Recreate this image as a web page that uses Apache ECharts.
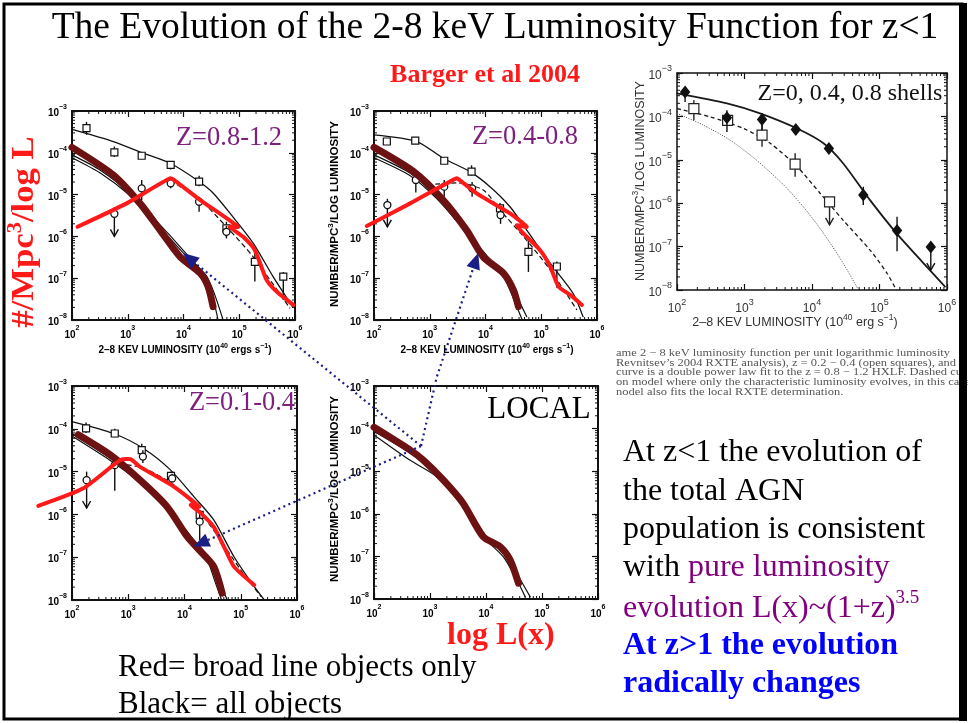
<!DOCTYPE html>
<html>
<head>
<meta charset="utf-8">
<script src="https://cdn.jsdelivr.net/npm/echarts/dist/echarts.min.js"></script>
<style>
html, body { margin: 0; padding: 0; background: #fff; }
#chart { width: 968px; height: 723px; }
</style>
</head>
<body>
<div id="chart"></div>
<script>
// All values are log10: x = log10(L / 1e40 erg s^-1), y = log10(number / Mpc^3 / log L)

// ---- Panel A: z = 0.8-1.2 ----
const zHighTotal = [[2.0,-3.44],[2.74,-3.73],[3.28,-4.01],[3.76,-4.25],[4.24,-4.65],[4.53,-4.96],[4.89,-5.54],[5.25,-6.16],[5.61,-6.97],[5.96,-7.69]];
const zHighDashed = [[3.76,-4.66],[4.30,-5.13],[4.77,-5.77],[5.25,-6.49],[5.91,-7.72]];
const zHighLocalA = [[2.0,-4.05],[2.5,-4.41],[3.04,-4.97],[3.52,-5.69],[4.0,-6.40],[4.42,-6.96],[4.71,-8.0]];
const zHighLocalB = [[2.0,-4.12],[2.5,-4.48],[3.04,-5.02],[3.52,-5.64],[4.0,-6.34],[4.42,-7.03],[4.62,-8.0]];
const zHighBrown = [[2.0,-3.87],[2.74,-4.53],[3.22,-5.21],[3.58,-5.85],[3.94,-6.49],[4.30,-6.88],[4.44,-7.20],[4.53,-7.68]];
const zHighRed = [[2.10,-5.77],[2.98,-5.21],[3.76,-4.61],[3.85,-4.67],[4.30,-5.13],[4.98,-5.77],[4.83,-5.77],[5.07,-6.01],[5.28,-6.33],[5.49,-7.04],[5.67,-7.32],[5.97,-7.64]];
// [logL, logPhi, lower, upper, upperLimitFlag]
const zHighSquares = [[2.26,-3.41,-3.57,-3.26,0],[2.76,-3.99,-4.10,-3.85,0],[3.25,-4.07,-4.15,-3.98,0],[3.77,-4.29,-4.40,-4.20,0],[4.28,-4.69,-4.80,-4.55,0],[4.77,-5.81,-6.00,-5.65,0],[5.28,-6.61,-7.08,-6.25,0],[5.79,-6.96,-7.52,-6.85,0]];
const zHighCircles = [[2.76,-5.46,-6.00,-5.30,1],[3.25,-4.85,-5.13,-4.65,0],[3.77,-4.73,-4.85,-4.60,0],[4.28,-5.17,-5.41,-5.05,0],[4.77,-5.89,-6.05,-5.75,0]];

// ---- Panel B: z = 0.4-0.8 ----
const zMidTotal = [[2.0,-3.57],[2.77,-3.73],[3.24,-4.13],[3.72,-4.45],[4.08,-4.81],[4.44,-5.29],[4.74,-5.85],[5.16,-6.64],[5.57,-7.36],[5.75,-7.92]];
const zMidDashed = [[3.10,-4.75],[3.48,-4.72],[3.96,-4.89],[4.26,-5.37],[4.68,-6.00],[5.16,-6.80],[5.64,-7.76]];
const zMidLocalA = [[2.0,-4.05],[2.65,-4.49],[3.12,-5.05],[3.54,-5.69],[3.96,-6.40],[4.32,-6.88],[4.56,-7.44],[4.74,-7.92]];
const zMidLocalB = [[2.0,-4.12],[2.65,-4.55],[3.12,-5.09],[3.54,-5.72],[3.96,-6.36],[4.32,-6.95],[4.52,-7.55],[4.66,-8.0]];
const zMidBrown = [[2.0,-3.87],[2.71,-4.45],[3.24,-5.13],[3.66,-5.85],[3.96,-6.49],[4.32,-6.88],[4.50,-7.28],[4.59,-7.68]];
const zMidRed = [[1.87,-5.75],[2.65,-5.21],[3.48,-4.61],[3.57,-4.69],[3.84,-4.97],[4.44,-5.45],[4.74,-5.77],[4.56,-5.73],[4.68,-5.93],[4.98,-6.33],[5.16,-6.72],[5.31,-7.20],[5.52,-7.40],[5.73,-7.64]];
const zMidSquares = [[2.23,-3.73,-3.80,-3.65,0],[2.74,-3.71,-3.78,-3.64,0],[3.26,-4.19,-4.27,-4.10,0],[3.75,-4.45,-4.55,-4.30,0],[4.26,-5.33,-5.45,-5.20,0],[4.77,-6.37,-6.85,-6.10,0],[5.28,-6.72,-7.23,-6.60,0]];
const zMidCircles = [[2.24,-5.25,-5.77,-5.10,1],[2.75,-4.65,-4.95,-4.50,0],[3.26,-4.81,-5.05,-4.65,0],[3.76,-4.85,-5.05,-4.70,0],[4.27,-5.49,-5.70,-5.30,0]];

// ---- Panel C: z = 0.1-0.4 ----
const zLowTotal = [[2.0,-3.83],[2.74,-4.11],[3.27,-4.46],[3.75,-4.96],[4.17,-5.59],[4.52,-6.13],[4.88,-6.99],[5.24,-7.69],[5.42,-8.0]];
const zLowDashed = [[2.83,-4.81],[3.27,-4.92],[3.81,-5.31],[4.29,-5.97],[4.64,-6.60],[5.00,-7.30],[5.36,-7.92]];
const zLowLocalA = [[2.0,-4.11],[2.68,-4.69],[3.21,-5.20],[3.69,-5.82],[4.05,-6.44],[4.40,-6.99],[4.58,-7.46],[4.76,-8.0]];
const zLowLocalB = [[2.0,-4.17],[2.68,-4.74],[3.21,-5.25],[3.69,-5.86],[4.05,-6.40],[4.40,-7.05],[4.55,-7.60],[4.66,-8.0]];
const zLowBrown = [[2.11,-4.14],[2.68,-4.61],[3.21,-5.20],[3.69,-5.82],[4.05,-6.52],[4.29,-6.87],[4.52,-7.22],[4.67,-7.84]];
const zLowRed = [[1.40,-5.80],[2.20,-5.39],[2.86,-4.73],[3.04,-4.71],[3.21,-4.89],[3.81,-5.35],[4.26,-5.82],[4.11,-5.78],[4.29,-5.97],[4.52,-6.29],[4.70,-6.75],[4.88,-7.22],[5.24,-7.65]];
const zLowSquares = [[2.25,-3.99,-4.10,-3.85,0],[2.76,-4.11,-4.20,-4.00,0],[3.24,-4.50,-4.65,-4.35,0],[3.76,-5.10,-5.20,-5.00,0],[4.27,-6.01,-6.15,-5.90,0]];
const zLowCircles = [[2.26,-5.20,-5.85,-5.00,1],[2.76,-4.85,-5.45,-4.70,0],[3.26,-4.65,-4.80,-4.50,0],[3.78,-5.16,-5.25,-5.05,0],[4.27,-6.17,-6.60,-5.95,0]];

// ---- Panel D: local ----
const localBrown = [[2.0,-3.97],[2.64,-4.50],[2.88,-4.74],[3.24,-5.21],[3.59,-5.75],[3.95,-6.54],[4.25,-6.77],[4.43,-7.08],[4.58,-7.63]];
const localA = [[2.0,-4.07],[2.76,-4.66],[3.24,-5.13],[3.66,-5.83],[4.01,-6.54],[4.37,-7.01],[4.55,-7.40],[4.79,-7.95]];
const localB = [[2.0,-4.15],[2.64,-4.74],[3.12,-5.13],[3.54,-5.75],[3.95,-6.54],[4.31,-7.01],[4.55,-7.55],[4.70,-7.95]];

// ---- Panel E: Z = 0, 0.4, 0.8 shells ----
const shellHighFit = [[2.0,-3.47],[2.74,-3.70],[3.23,-3.93],[3.78,-4.28],[4.17,-4.62],[4.46,-5.08],[4.86,-5.93],[5.25,-6.69],[5.65,-7.38],[5.97,-7.92]];
const shellMidFit = [[2.0,-3.82],[2.49,-4.01],[2.99,-4.28],[3.38,-4.62],[3.78,-5.16],[4.12,-5.77],[4.46,-6.39],[4.86,-7.08],[5.11,-7.61],[5.25,-8.0]];
const shellLocalFit = [[2.0,-3.93],[2.39,-4.20],[2.79,-4.55],[3.18,-5.01],[3.58,-5.58],[3.87,-6.08],[4.17,-6.69],[4.46,-7.38],[4.69,-8.0]];
const shellDiamonds = [[2.12,-3.44,-3.67,-3.32,0],[2.74,-4.03,-4.36,-3.86,0],[3.26,-4.07,-4.32,-3.93,0],[3.76,-4.30,-4.40,-4.20,0],[4.25,-4.74,-4.85,-4.65,0],[4.76,-5.81,-6.04,-5.62,0],[5.26,-6.63,-7.11,-6.31,0],[5.76,-7.01,-7.54,-7.01,1]];
const shellSquares = [[2.25,-3.82,-4.09,-3.63,0],[2.75,-4.09,-4.20,-3.95,0],[3.26,-4.43,-4.70,-4.16,0],[3.75,-5.10,-5.39,-4.85,0],[4.26,-5.97,-6.50,-5.97,1]];

// Axis extents
const logLRange = [2, 6];
const logPhiRange = [-8, -3];

// Evolution arrows: start on the local curve, end on each redshift panel
const arrowStart = [2.84, -4.41];
const arrowBend = [3.12, -2.79];
const arrowTargets = [[3.99, -6.40], [3.87, -6.40], [4.16, -6.75]];

// ---------------------------------------------------------------
const frames = [
  { left: 72,  top: 111, width: 223, height: 209 },
  { left: 374, top: 111, width: 223, height: 209 },
  { left: 72,  top: 386, width: 225, height: 214 },
  { left: 374, top: 386, width: 224, height: 213 },
  { left: 677, top: 73,  width: 270, height: 217 }
];

const RED = '#ff1a1a', BROWN = '#6d1212', PURPLE = '#7d217d', NAVY = '#1a1f86';

function supLabel(v) {
  const e = v < 0 ? '\u2212' + (-v) : String(v);
  return '{b|10}{s|' + e + '}';
}
function richFor(size, color, weight) {
  return {
    b: { fontSize: size, fontFamily: 'Liberation Sans', fontWeight: weight, color: color, lineHeight: size + 5, verticalAlign: 'bottom' },
    s: { fontSize: Math.round(size * 0.72), fontFamily: 'Liberation Sans', fontWeight: weight, color: color, verticalAlign: 'top' }
  };
}

const xAxes = [], yAxes = [], grids = [];
frames.forEach((f, i) => {
  grids.push(Object.assign({ containLabel: false }, f));
  const big = i === 4;
  const col = big ? '#333' : '#000';
  const lsize = big ? 12 : 10;
  const weight = big ? 'normal' : 'bold';
  const common = {
    type: 'value', gridIndex: i, interval: 1,
    axisLine: { show: true, onZero: false, lineStyle: { color: '#111', width: big ? 1.5 : 2 } },
    axisTick: { show: true, inside: true, length: 6, lineStyle: { color: '#111', width: 1.2 } },
    splitLine: { show: false }
  };
  xAxes.push(Object.assign({}, common, {
    position: 'bottom', min: logLRange[0], max: logLRange[1],
    axisLabel: { show: true, margin: big ? 8 : 5, formatter: supLabel, rich: richFor(lsize, col, weight) }
  }));
  xAxes.push(Object.assign({}, common, {
    position: 'top', min: logLRange[0], max: logLRange[1], axisLabel: { show: false }
  }));
  yAxes.push(Object.assign({}, common, {
    position: 'left', min: logPhiRange[0], max: logPhiRange[1],
    axisLabel: { show: true, margin: 5, formatter: supLabel, rich: richFor(lsize, col, weight) }
  }));
  yAxes.push(Object.assign({}, common, {
    position: 'right', min: logPhiRange[0], max: logPhiRange[1], axisLabel: { show: false }
  }));
});

// Minor ticks at 2..9 x 10^n on all four sides of a frame
function minorTicks(gi) {
  return {
    type: 'custom', xAxisIndex: gi * 2, yAxisIndex: gi * 2, silent: true, z: 6,
    data: [[(logLRange[0] + logLRange[1]) / 2, (logPhiRange[0] + logPhiRange[1]) / 2]],
    renderItem: function (params, api) {
      const kids = [];
      const st = { stroke: '#111', lineWidth: 1 };
      const len = 3;
      for (let d = logLRange[0]; d < logLRange[1]; d++) {
        for (let k = 2; k < 10; k++) {
          const v = d + Math.log10(k);
          const b = api.coord([v, logPhiRange[0]]), t = api.coord([v, logPhiRange[1]]);
          kids.push({ type: 'line', shape: { x1: b[0], y1: b[1], x2: b[0], y2: b[1] - len }, style: st });
          kids.push({ type: 'line', shape: { x1: t[0], y1: t[1], x2: t[0], y2: t[1] + len }, style: st });
        }
      }
      for (let d = logPhiRange[0]; d < logPhiRange[1]; d++) {
        for (let k = 2; k < 10; k++) {
          const v = d + Math.log10(k);
          const l = api.coord([logLRange[0], v]), r = api.coord([logLRange[1], v]);
          kids.push({ type: 'line', shape: { x1: l[0], y1: l[1], x2: l[0] + len, y2: l[1] }, style: st });
          kids.push({ type: 'line', shape: { x1: r[0], y1: r[1], x2: r[0] - len, y2: r[1] }, style: st });
        }
      }
      return { type: 'group', children: kids };
    }
  };
}

// Data points with vertical error bars; flag 1 draws an upper-limit arrow
function points(gi, rows, shape, size, color) {
  return {
    type: 'custom', xAxisIndex: gi * 2, yAxisIndex: gi * 2, silent: true, z: 8,
    data: rows,
    renderItem: function (params, api) {
      const x = api.value(0), y = api.value(1), lo = api.value(2), hi = api.value(3), lim = api.value(4);
      const c = api.coord([x, y]), pl = api.coord([x, lo]), ph = api.coord([x, hi]);
      const kids = [];
      const st = { stroke: color, lineWidth: 1.4 };
      kids.push({ type: 'line', shape: { x1: c[0], y1: ph[1], x2: c[0], y2: pl[1] }, style: st });
      if (lim) {
        kids.push({ type: 'polyline', shape: { points: [[c[0] - 4, pl[1] - 7], [c[0], pl[1]], [c[0] + 4, pl[1] - 7]] }, style: { stroke: color, lineWidth: 1.4, fill: 'none' } });
      }
      const h = size / 2;
      if (shape === 'square') {
        kids.push({ type: 'rect', shape: { x: c[0] - h, y: c[1] - h, width: size, height: size }, style: { fill: '#fff', stroke: color, lineWidth: 1.2 } });
      } else if (shape === 'circle') {
        kids.push({ type: 'circle', shape: { cx: c[0], cy: c[1], r: h }, style: { fill: '#fff', stroke: color, lineWidth: 1.3 } });
      } else {
        kids.push({ type: 'polygon', shape: { points: [[c[0], c[1] - h], [c[0] + h * 0.8, c[1]], [c[0], c[1] + h], [c[0] - h * 0.8, c[1]]] }, style: { fill: color } });
      }
      return { type: 'group', children: kids };
    }
  };
}

function curve(gi, data, color, width, extra) {
  return Object.assign({
    type: 'line', xAxisIndex: gi * 2, yAxisIndex: gi * 2, data: data,
    symbol: 'none', showSymbol: false, silent: true, clip: false, smooth: 0.25,
    lineStyle: { color: color, width: width, cap: 'round', join: 'round' }, z: 3
  }, extra || {});
}

// Hand-drawn broad-line tracks: free polylines that may leave the frame
function track(gi, data, color, width) {
  return {
    type: 'custom', xAxisIndex: gi * 2, yAxisIndex: gi * 2, silent: true, z: 10, clip: false,
    data: data,
    renderItem: function (params, api) {
      if (params.dataIndex !== 0) return null;
      const pts = data.map(p => api.coord(p));
      return { type: 'polyline', shape: { points: pts, smooth: 0.2 }, style: { stroke: color, lineWidth: width, fill: 'none', lineCap: 'round', lineJoin: 'round' } };
    }
  };
}

const series = [];
for (let i = 0; i < 5; i++) series.push(minorTicks(i));

// Panel A
series.push(curve(0, zHighTotal, '#111', 1.3));
series.push(curve(0, zHighDashed, '#111', 1.2, { lineStyle: { color: '#111', width: 1.2, type: [5, 3] } }));
series.push(curve(0, zHighLocalA, '#111', 1.2));
series.push(curve(0, zHighLocalB, '#111', 1.2));
series.push(points(0, zHighSquares, 'square', 7, '#111'));
series.push(points(0, zHighCircles, 'circle', 7, '#111'));
series.push(curve(0, zHighBrown, BROWN, 7, { z: 9 }));
series.push(track(0, zHighRed, RED, 4));
// Panel B
series.push(curve(1, zMidTotal, '#111', 1.3));
series.push(curve(1, zMidDashed, '#111', 1.2, { lineStyle: { color: '#111', width: 1.2, type: [5, 3] } }));
series.push(curve(1, zMidLocalA, '#111', 1.2));
series.push(curve(1, zMidLocalB, '#111', 1.2));
series.push(points(1, zMidSquares, 'square', 7, '#111'));
series.push(points(1, zMidCircles, 'circle', 7, '#111'));
series.push(curve(1, zMidBrown, BROWN, 7, { z: 9 }));
series.push(track(1, zMidRed, RED, 4));
// Panel C
series.push(curve(2, zLowTotal, '#111', 1.3));
series.push(curve(2, zLowDashed, '#111', 1.2, { lineStyle: { color: '#111', width: 1.2, type: [5, 3] } }));
series.push(curve(2, zLowLocalA, '#111', 1.2));
series.push(curve(2, zLowLocalB, '#111', 1.2));
series.push(points(2, zLowSquares, 'square', 7, '#111'));
series.push(points(2, zLowCircles, 'circle', 7, '#111'));
series.push(curve(2, zLowBrown, BROWN, 7, { z: 9 }));
series.push(track(2, zLowRed, RED, 4));
// Panel D
series.push(curve(3, localA, '#111', 1.2));
series.push(curve(3, localB, '#111', 1.2));
series.push(curve(3, localBrown, BROWN, 7, { z: 9 }));
// Panel E
series.push(curve(4, shellHighFit, '#1a1a1a', 1.8));
series.push(curve(4, shellMidFit, '#1a1a1a', 1.3, { lineStyle: { color: '#1a1a1a', width: 1.3, type: [4, 3] } }));
series.push(curve(4, shellLocalFit, '#444', 1, { lineStyle: { color: '#444', width: 1, type: [1, 1.5] } }));
series.push(points(4, shellSquares, 'square', 10, '#222'));
series.push(points(4, shellDiamonds, 'diamond', 13, '#111'));

const chart = echarts.init(document.getElementById('chart'), null, { renderer: 'canvas' });
chart.setOption({
  animation: false,
  backgroundColor: '#fff',
  grid: grids,
  xAxis: xAxes,
  yAxis: yAxes,
  series: series
});

// ---- annotations ----
function toPx(gi, p) {
  return chart.convertToPixel({ xAxisIndex: gi * 2, yAxisIndex: gi * 2 }, p);
}
function arrowHead(from, tip, len, half) {
  const dx = tip[0] - from[0], dy = tip[1] - from[1];
  const n = Math.hypot(dx, dy), ux = dx / n, uy = dy / n;
  const bx = tip[0] - ux * len, by = tip[1] - uy * len;
  return {
    base: [bx, by],
    pts: [tip, [bx - uy * half, by + ux * half], [bx + uy * half, by - ux * half]]
  };
}

const g = [];
const start = toPx(3, arrowStart);
const bend = toPx(3, arrowBend);
const paths = [
  [start, toPx(0, arrowTargets[0])],
  [start, bend, toPx(1, arrowTargets[1])],
  [start, toPx(2, arrowTargets[2])]
];
paths.forEach(p => {
  const tip = p[p.length - 1], prev = p[p.length - 2];
  const ah = arrowHead(prev, tip, 16, 7);
  const line = p.slice(0, -1).concat([ah.base]);
  g.push({ type: 'polyline', z: 50, shape: { points: line }, style: { stroke: NAVY, lineWidth: 2.2, lineDash: [2, 3.5], fill: 'none' } });
  g.push({ type: 'polygon', z: 50, shape: { points: ah.pts }, style: { fill: NAVY } });
});

function txt(x, y, text, font, fill, align) {
  return { type: 'text', x: x, y: y, z: 60, style: { text: text, font: font, fill: fill, align: align || 'left', verticalAlign: 'middle' } };
}
function rt(family, size, fill, weight, extra) {
  return Object.assign({ fontSize: size, fontFamily: family, fontWeight: weight || 'normal', fill: fill, color: fill }, extra || {});
}

// slide frame
g.push({ type: 'rect', z: 70, shape: { x: 4, y: 4, width: 958, height: 715 }, style: { fill: 'none', stroke: '#000', lineWidth: 3 } });
g.push({ type: 'rect', z: 70, shape: { x: 959, y: 3, width: 8, height: 718 }, style: { fill: '#000' } });

g.push(txt(495, 28, 'The Evolution of the 2-8 keV Luminosity Function for z<1', '37.5px "Liberation Serif"', '#000', 'center'));
g.push(txt(485, 75, 'Barger et al 2004', 'bold 26px "Liberation Serif"', RED, 'center'));

// panel captions
g.push(txt(229, 138, 'Z=0.8-1.2', '26.5px "Liberation Serif"', PURPLE, 'center'));
g.push(txt(525, 137, 'Z=0.4-0.8', '26.5px "Liberation Serif"', PURPLE, 'center'));
g.push(txt(242, 403, 'Z=0.1-0.4', '26.5px "Liberation Serif"', PURPLE, 'center'));
g.push(txt(539, 410, 'LOCAL', '31px "Liberation Serif"', '#000', 'center'));
g.push(txt(850, 94, 'Z=0, 0.4, 0.8 shells', '24px "Liberation Serif"', '#111', 'center'));

// axis titles of the small frames
const smallRich = {
  t: rt('Liberation Sans', 10, '#000', 'bold', { lineHeight: 13, verticalAlign: 'bottom' }),
  u: rt('Liberation Sans', 7, '#000', 'bold', { verticalAlign: 'top' })
};
const smallRichV = {
  t: rt('Liberation Sans', 11.5, '#000', 'bold', { lineHeight: 14, verticalAlign: 'bottom' }),
  u: rt('Liberation Sans', 8, '#000', 'bold', { verticalAlign: 'top' })
};
const xTitle = '{t|2\u20138 KEV LUMINOSITY (10}{u|40}{t| ergs s}{u|\u22121}{t|)}';
const yTitle = '{t|NUMBER/MPC}{u|3}{t|/LOG LUMINOSITY}';
g.push({ type: 'text', x: 185, y: 349, z: 60, style: { text: xTitle, rich: smallRich, align: 'center', verticalAlign: 'middle' } });
g.push({ type: 'text', x: 487, y: 349, z: 60, style: { text: xTitle, rich: smallRich, align: 'center', verticalAlign: 'middle' } });
g.push({ type: 'text', x: 334, y: 214, z: 60, rotation: Math.PI / 2, style: { text: yTitle, rich: smallRichV, align: 'center', verticalAlign: 'middle' } });
g.push({ type: 'text', x: 334, y: 489, z: 60, rotation: Math.PI / 2, style: { text: yTitle, rich: smallRichV, align: 'center', verticalAlign: 'middle' } });

// axis titles of the shells frame
const eRich = {
  t: rt('Liberation Sans', 12.5, '#333', 'normal', { lineHeight: 16, verticalAlign: 'bottom' }),
  u: rt('Liberation Sans', 8.5, '#333', 'normal', { verticalAlign: 'top' })
};
g.push({ type: 'text', x: 795, y: 321, z: 60, style: { text: '{t|2\u20138 KEV LUMINOSITY (10}{u|40}{t| erg s}{u|\u22121}{t|)}', rich: eRich, align: 'center', verticalAlign: 'middle' } });
g.push({ type: 'text', x: 639, y: 181, z: 60, rotation: Math.PI / 2, style: { text: yTitle, rich: eRich, align: 'center', verticalAlign: 'middle' } });

// red y-axis title
g.push({ type: 'text', x: 23, y: 232, z: 60, rotation: Math.PI / 2, scaleX: 1.12, style: {
  text: '{a|#/Mpc}{b|3}{a|/log L}', align: 'center', verticalAlign: 'middle',
  rich: {
    a: rt('Liberation Serif', 31, RED, 'bold', { lineHeight: 34, verticalAlign: 'bottom' }),
    b: rt('Liberation Serif', 20, RED, 'bold', { verticalAlign: 'top' })
  } } });

// caption excerpt
const capLines = [
  'ame 2 \u2212 8 keV luminosity function per unit logarithmic luminosity',
  'Revnitsev\u2019s 2004 RXTE analysis), z = 0.2 \u2212 0.4 (open squares), and z',
  'curve is a double power law fit to the z = 0.8 \u2212 1.2 HXLF. Dashed cu',
  'on model where only the characteristic luminosity evolves, in this case',
  'nodel also fits the local RXTE determination.'
];
capLines.forEach((s, k) => {
  g.push({ type: 'text', x: 616, y: 353 + k * 9.8, z: 40, scaleY: 0.85, style: { text: s, font: '12.5px "Liberation Serif"', fill: '#555', align: 'left', verticalAlign: 'middle' } });
});

// right-hand notes
const R = '32px "Liberation Serif"';
g.push(txt(623, 453, 'At z<1 the evolution of', R, '#000'));
g.push(txt(623, 492, 'the total AGN', R, '#000'));
g.push(txt(623, 530, 'population is consistent', R, '#000'));
g.push({ type: 'text', x: 623, y: 568, z: 60, style: { text: '{k|with }{p|pure luminosity}', align: 'left', verticalAlign: 'middle',
  rich: { k: rt('Liberation Serif', 32, '#000'), p: rt('Liberation Serif', 32, '#800080') } } });
g.push({ type: 'text', x: 623, y: 607, z: 60, style: { text: '{p|evolution L(x)~(1+z)}{s|3.5}', align: 'left', verticalAlign: 'middle',
  rich: { p: rt('Liberation Serif', 32, '#800080', 'normal', { lineHeight: 36, verticalAlign: 'bottom' }), s: rt('Liberation Serif', 19, '#800080', 'normal', { verticalAlign: 'top' }) } } });
g.push(txt(623, 646, 'At z>1 the evolution', 'bold 32px "Liberation Serif"', '#0000ff'));
g.push(txt(623, 684, 'radically changes', 'bold 32px "Liberation Serif"', '#0000ff'));

// bottom notes
g.push(txt(447, 636, 'log L(x)', 'bold 32px "Liberation Serif"', RED));
g.push(txt(118, 668, 'Red= broad line objects only', '31px "Liberation Serif"', '#000'));
g.push(txt(118, 705, 'Black= all objects', '31px "Liberation Serif"', '#000'));

chart.setOption({ graphic: g });
</script>
</body>
</html>
